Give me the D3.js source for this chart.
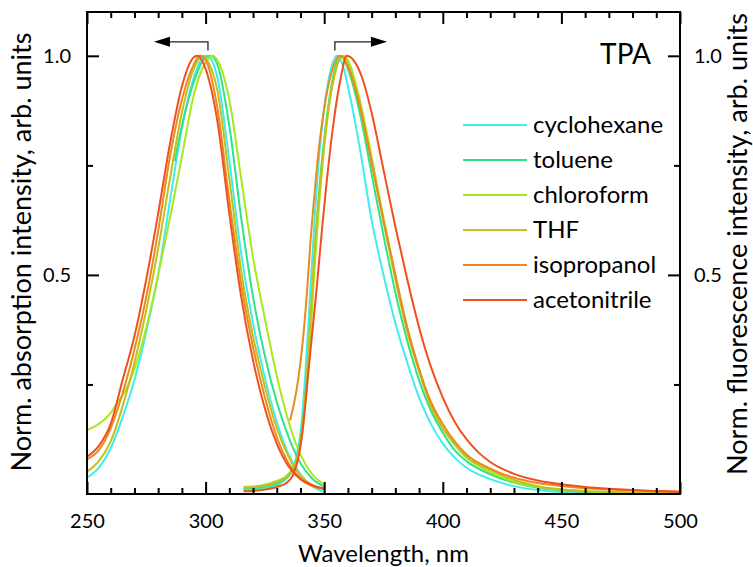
<!DOCTYPE html>
<html><head><meta charset="utf-8">
<script src="https://cdn.jsdelivr.net/npm/d3@7/dist/d3.min.js"></script>
<style>
body{margin:0;background:#fff;}
svg{display:block;font-family:Lato, "Open Sans", sans-serif;}
</style></head>
<body><svg id="chart" width="753" height="567"></svg>
<script>
const categories = ["cyclohexane","toluene","chloroform","THF","isopropanol","acetonitrile"];
const colors = ["#3FEDEE","#2EE38C","#A8E81E","#C6BE1C","#E98B1F","#F0501D"];
const xMajorTicks = [250,300,350,400,450,500];
const yMajorTicks = [0.5,1.0];
const yMinorTicks = [0.25,0.75];
const chartLabel = "TPA";

// Absorption spectra [wavelength nm, normalized intensity]
const absCyclohexane = [[250,0.037],[255,0.06],[260,0.105],[265,0.175],[270,0.26],[275,0.37],[280,0.5],[285,0.67],[290,0.835],[295,0.95],[298,0.99],[300.5,1.0],[303,0.985],[305,0.95],[310,0.76],[315,0.55],[320,0.39],[325,0.265],[330,0.165],[335,0.09],[340,0.045],[345,0.018],[350,0.005]];
const absToluene = [[287,0.76],[290,0.84],[295,0.94],[299,0.99],[302,1.0],[305,0.98],[310,0.84],[315,0.63],[320,0.45],[325,0.315],[330,0.21],[335,0.13],[340,0.07],[345,0.035],[350,0.017]];
const absChloroform = [[250,0.146],[255,0.16],[260,0.185],[263,0.21],[265,0.225],[270,0.285],[275,0.38],[280,0.5],[285,0.63],[290,0.77],[295,0.91],[300,0.985],[303,1.0],[305,0.99],[310,0.9],[315,0.72],[320,0.54],[325,0.4],[330,0.27],[335,0.165],[340,0.09],[345,0.045],[350,0.022]];
const absTHF = [[250,0.051],[255,0.075],[260,0.12],[265,0.2],[270,0.3],[275,0.42],[280,0.56],[285,0.72],[290,0.87],[295,0.97],[299,1.0],[300,0.995],[305,0.92],[310,0.72],[315,0.51],[320,0.36],[325,0.245],[330,0.15],[335,0.085],[340,0.042],[345,0.02],[350,0.012]];
const absIsopropanol = [[250,0.079],[255,0.1],[260,0.15],[265,0.23],[270,0.33],[275,0.45],[280,0.6],[285,0.77],[290,0.9],[295,0.98],[297.5,1.0],[300,0.99],[305,0.88],[310,0.67],[315,0.48],[320,0.335],[325,0.22],[330,0.13],[335,0.07],[340,0.035],[345,0.018],[350,0.012]];
const absAcetonitrile = [[250,0.085],[255,0.11],[260,0.16],[265,0.26],[270,0.36],[275,0.49],[280,0.64],[285,0.8],[290,0.93],[294,0.99],[296.5,1.0],[300,0.97],[305,0.85],[310,0.64],[315,0.45],[320,0.305],[325,0.195],[330,0.115],[335,0.063],[340,0.034],[345,0.02],[350,0.012]];

// Fluorescence spectra
const flCyclohexane = [[316,0.008],[320,0.009],[325,0.012],[330,0.02],[333,0.03],[336,0.05],[338,0.08],[340,0.14],[342,0.27],[344,0.45],[346,0.63],[348,0.78],[350,0.88],[352,0.95],[355.5,1.0],[358,0.975],[360,0.93],[365,0.79],[370,0.625],[375,0.5],[380,0.39],[385,0.3],[390,0.22],[395,0.16],[400,0.115],[405,0.083],[410,0.06],[420,0.034],[430,0.018],[440,0.009],[450,0.004],[460,0.002],[480,0.001],[500,0.0005]];
const flToluene = [[316,0.012],[320,0.013],[325,0.016],[330,0.024],[333,0.032],[336,0.048],[338,0.07],[340,0.12],[342,0.22],[344,0.37],[346,0.55],[348,0.7],[350,0.81],[353,0.93],[355,0.98],[357.5,1.0],[360,0.97],[365,0.87],[370,0.73],[375,0.59],[380,0.46],[385,0.35],[390,0.26],[395,0.19],[400,0.14],[405,0.1],[410,0.075],[420,0.045],[430,0.026],[440,0.014],[450,0.008],[460,0.005],[470,0.003],[480,0.002],[500,0.001]];
const flChloroform = [[316,0.016],[320,0.017],[325,0.021],[330,0.03],[333,0.037],[336,0.052],[338,0.07],[340,0.11],[342,0.2],[344,0.34],[346,0.52],[348,0.67],[350,0.79],[353,0.92],[355,0.97],[358,1.0],[360,0.99],[365,0.9],[370,0.77],[375,0.63],[380,0.5],[385,0.38],[390,0.285],[395,0.205],[400,0.15],[405,0.112],[410,0.083],[420,0.05],[430,0.028],[440,0.016],[450,0.01],[460,0.006],[470,0.004],[480,0.003],[500,0.002]];
const flTHF = [[316,0.015],[320,0.016],[325,0.02],[330,0.028],[333,0.035],[336,0.05],[338,0.07],[340,0.12],[342,0.22],[344,0.38],[346,0.56],[348,0.69],[350,0.8],[353,0.92],[355,0.97],[357.5,1.0],[360,0.98],[365,0.89],[370,0.76],[375,0.62],[380,0.49],[385,0.37],[390,0.28],[395,0.2],[400,0.15],[405,0.115],[410,0.085],[420,0.055],[430,0.032],[440,0.018],[450,0.011],[460,0.007],[470,0.005],[480,0.003],[490,0.002],[500,0.001]];
const flIsopropanol = [[335.6,0.168],[337,0.2],[339,0.26],[341,0.35],[343,0.48],[344,0.56],[346,0.69],[348,0.8],[350,0.88],[353,0.96],[356.5,1.0],[360,0.975],[365,0.885],[370,0.755],[375,0.625],[380,0.5],[385,0.38],[390,0.285],[395,0.21],[400,0.16],[405,0.12],[410,0.09],[420,0.058],[430,0.037],[440,0.025],[450,0.018],[460,0.013],[470,0.01],[480,0.008],[490,0.006],[500,0.005]];
const flAcetonitrile = [[316,0.006],[320,0.007],[325,0.01],[330,0.016],[334,0.025],[337,0.045],[339,0.08],[341,0.15],[343,0.26],[345,0.37],[347,0.48],[349,0.6],[351,0.71],[354,0.85],[357,0.95],[359.5,1.0],[363,0.985],[366,0.95],[370,0.87],[375,0.74],[380,0.61],[385,0.49],[390,0.38],[395,0.29],[400,0.22],[405,0.165],[410,0.125],[415,0.095],[420,0.073],[430,0.046],[440,0.031],[450,0.022],[460,0.016],[470,0.012],[480,0.009],[490,0.007],[500,0.005]];

const absorption = [absCyclohexane,absToluene,absChloroform,absTHF,absIsopropanol,absAcetonitrile];
const fluorescence = [flCyclohexane,flToluene,flChloroform,flTHF,flIsopropanol,flAcetonitrile];

const svg = d3.select("#chart");
const L = 87, R = 680, T = 12, B = 494;
const x = d3.scaleLinear().domain([250,500]).range([L,R]);
const y = d3.scaleLinear().domain([0,1.1]).range([B,T]);

const line = d3.line().x(d=>x(d[0])).y(d=>y(d[1])).curve(d3.curveMonotoneX);
const plot = svg.append("g");
categories.forEach((c,i)=>{
  [absorption[i], fluorescence[i]].forEach(s=>{
    plot.append("path").datum(s).attr("d",line)
      .attr("fill","none").attr("stroke",colors[i]).attr("stroke-width",2)
      .attr("stroke-linejoin","round");
  });
});

// axes
const minorX = d3.range(260,500,10).filter(v=>v%50!==0);
function style(g){ g.select(".domain").remove(); g.selectAll("line").attr("stroke","#000").attr("stroke-width",2); g.selectAll("text").attr("fill","#000").attr("font-size",20).attr("font-family","Lato, sans-serif"); }
svg.append("g").attr("transform",`translate(0,${B})`).call(d3.axisBottom(x).tickValues(xMajorTicks).tickSize(-12).tickPadding(20).tickFormat(d3.format("d"))).call(style);
svg.append("g").attr("transform",`translate(0,${B})`).call(d3.axisBottom(x).tickValues(minorX).tickSize(-6).tickFormat("")).call(style);
svg.append("g").attr("transform",`translate(0,${T})`).call(d3.axisTop(x).tickValues(xMajorTicks).tickSize(-12).tickFormat("")).call(style);
svg.append("g").attr("transform",`translate(0,${T})`).call(d3.axisTop(x).tickValues(minorX).tickSize(-6).tickFormat("")).call(style);
svg.append("g").attr("transform",`translate(${L},0)`).call(d3.axisLeft(y).tickValues(yMajorTicks).tickSize(-12).tickPadding(16).tickFormat(d3.format(".1f"))).call(style);
svg.append("g").attr("transform",`translate(${L},0)`).call(d3.axisLeft(y).tickValues(yMinorTicks).tickSize(-6).tickFormat("")).call(style);
svg.append("g").attr("transform",`translate(${R},0)`).call(d3.axisRight(y).tickValues(yMajorTicks).tickSize(-12).tickPadding(14).tickFormat(d3.format(".1f"))).call(style);
svg.append("g").attr("transform",`translate(${R},0)`).call(d3.axisRight(y).tickValues(yMinorTicks).tickSize(-6).tickFormat("")).call(style);

svg.append("rect").attr("x",L).attr("y",T).attr("width",R-L).attr("height",B-T)
  .attr("fill","none").attr("stroke","#000").attr("stroke-width",2);

// titles
svg.append("text").attr("x",(L+R)/2).attr("y",562).attr("text-anchor","middle")
  .attr("font-size",24).text("Wavelength, nm");
svg.append("text").attr("transform",`translate(31,252) rotate(-90)`).attr("text-anchor","middle")
  .attr("font-size",27).text("Norm. absorption intensity, arb. units");
svg.append("text").attr("transform",`translate(747,244) rotate(-90)`).attr("text-anchor","middle")
  .attr("font-size",27).text("Norm. fluorescence intensity, arb. units");
svg.append("text").attr("x",651).attr("y",64).attr("text-anchor","end")
  .attr("font-size",28).text(chartLabel);

// arrows
const arr = svg.append("g").attr("stroke","#222").attr("stroke-width",1.3).attr("fill","none");
const yA = y(1.032), yB = y(1.012);
arr.append("path").attr("d",`M${x(301)},${yB}V${yA}H${x(284)}`);
svg.append("path").attr("d",`M${x(278.2)},${yA}L${x(285)},${yA-5}L${x(285)},${yA+5}Z`).attr("fill","#000");
arr.append("path").attr("d",`M${x(354.5)},${yB}V${yA}H${x(371)}`);
svg.append("path").attr("d",`M${x(376.5)},${yA}L${x(369.7)},${yA-5}L${x(369.7)},${yA+5}Z`).attr("fill","#000");

// legend
const leg = svg.append("g");
categories.forEach((c,i)=>{
  const yy = 125 + i*35;
  leg.append("line").attr("x1",463).attr("x2",527).attr("y1",yy).attr("y2",yy)
    .attr("stroke",colors[i]).attr("stroke-width",2);
  leg.append("text").attr("x",533).attr("y",yy+8).attr("font-size",24).text(c);
});
</script></body></html>
